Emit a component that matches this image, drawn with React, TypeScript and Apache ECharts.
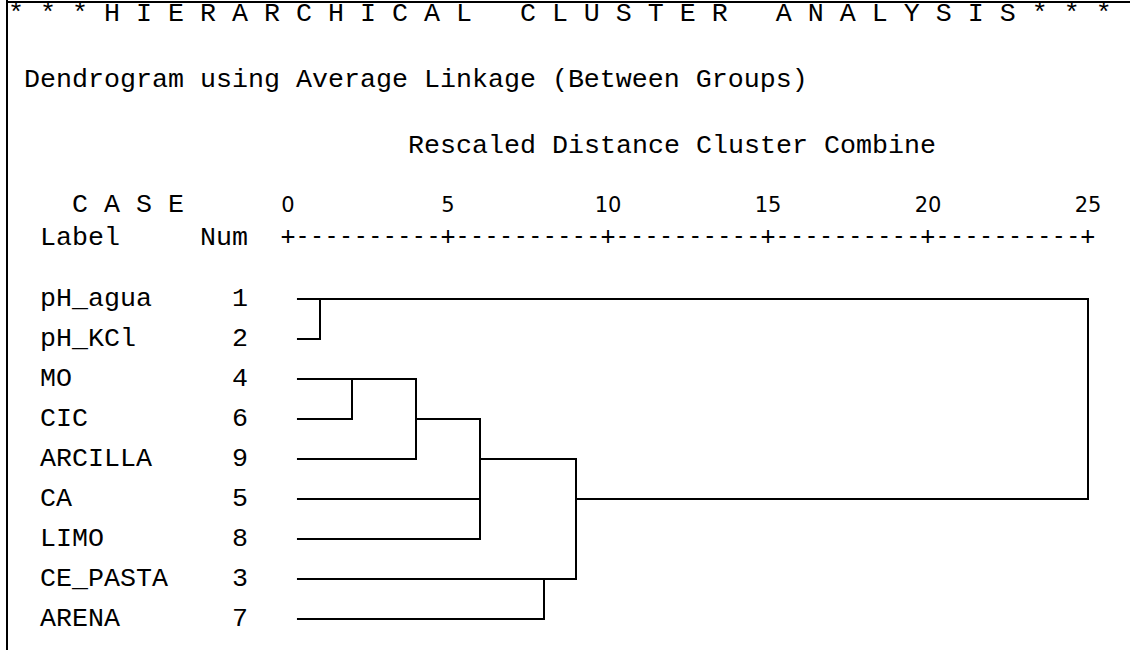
import React, { useEffect, useRef } from "react";
import * as echarts from "echarts";

// ---- Texts ----
const TITLE = "* * * H I E R A R C H I C A L   C L U S T E R   A N A L Y S I S * * *";
const SUBTITLE = "Dendrogram using Average Linkage (Between Groups)";
const AXIS_TITLE = "Rescaled Distance Cluster Combine";
const CASE_HEADER = "C A S E";
const LABEL_HEADER = "Label";
const NUM_HEADER = "Num";

// ---- Axis ----
const TICKS = [0, 5, 10, 15, 20, 25];

// ---- Leaves (top to bottom) ----
const LEAF_LABELS = ["pH_agua", "pH_KCl", "MO", "CIC", "ARCILLA", "CA", "LIMO", "CE_PASTA", "ARENA"];
const LEAF_NUMS = [1, 2, 4, 6, 9, 5, 8, 3, 7];

// ---- Merges (node ids: leaves 0..8, clusters 9..) ----
const MERGE_CHILDREN = [[0, 1], [2, 3], [10, 4], [11, 5, 6], [7, 8], [12, 13], [9, 14]];
const MERGE_HEIGHTS = [1.0, 2.0, 4.0, 6.0, 8.0, 9.0, 25.0];
const LEAF_START = 0.28;

const MONO = "'Liberation Mono', 'Courier New', monospace";
const CHAR_W = 16;
const X0 = 8;
const colX = (c: number) => X0 + c * CHAR_W;

function buildSegments() {
  const nodeRow: number[] = LEAF_LABELS.map((_, i) => i);
  const nodeX: number[] = LEAF_LABELS.map(() => LEAF_START);
  const segs: number[][][] = [];
  MERGE_CHILDREN.forEach((ch, k) => {
    const h = MERGE_HEIGHTS[k];
    const sorted = ch.slice().sort((a, b) => nodeRow[a] - nodeRow[b]);
    const first = sorted[0];
    const last = sorted[sorted.length - 1];
    segs.push([
      [nodeX[first], nodeRow[first]],
      [h, nodeRow[first]],
      [h, nodeRow[last]],
      [nodeX[last], nodeRow[last]],
    ]);
    sorted.slice(1, -1).forEach((c) => segs.push([[nodeX[c], nodeRow[c]], [h, nodeRow[c]]]));
    nodeRow.push(Math.floor((nodeRow[first] + nodeRow[last]) / 2));
    nodeX.push(h);
  });
  return segs;
}

export default function App() {
  const ref = useRef<HTMLDivElement>(null);
  useEffect(() => {
    document.body.style.margin = "0";
    if (!ref.current) return;
    const chart = echarts.init(ref.current, undefined, { renderer: "svg" });
    const segs = buildSegments();
    const textStyle = (extra: any) => ({
      fill: "#000",
      font: `26.67px ${MONO}`,
      lineHeight: 20,
      textVerticalAlign: "middle",
      ...extra,
    });
    const ROW_Y0 = 299;
    const ROW_H = 40;
    const plusLine = TICKS.map(() => "+").join("-".repeat(10));

    const graphics: any[] = [
      { type: "line", shape: { x1: 7, y1: 0, x2: 7, y2: 650 }, style: { stroke: "#000", lineWidth: 2 }, silent: true },
      { type: "line", shape: { x1: 6, y1: 2, x2: 1130, y2: 2 }, style: { stroke: "#000", lineWidth: 2 }, silent: true },
      { type: "text", x: colX(0), y: 14, style: textStyle({ text: TITLE }) },
      { type: "text", x: colX(1), y: 80, style: textStyle({ text: SUBTITLE }) },
      { type: "text", x: colX(25), y: 146, style: textStyle({ text: AXIS_TITLE }) },
      { type: "text", x: colX(4), y: 205, style: textStyle({ text: CASE_HEADER }) },
      { type: "text", x: colX(2), y: 238, style: textStyle({ text: LABEL_HEADER }) },
      { type: "text", x: colX(12), y: 238, style: textStyle({ text: NUM_HEADER }) },
      {
        type: "text",
        x: 280.7,
        y: 236,
        style: {
          text: plusLine,
          fill: "#000",
          font: "24.16px 'DejaVu Sans Mono', monospace",
          lineHeight: 20,
          textVerticalAlign: "middle",
        },
      },
    ];
    LEAF_LABELS.forEach((lab, i) => {
      const y = ROW_Y0 + i * ROW_H;
      graphics.push({ type: "text", x: colX(2), y, style: textStyle({ text: lab }) });
      graphics.push({ type: "text", x: colX(15), y, style: textStyle({ text: String(LEAF_NUMS[i]), textAlign: "right" }) });
    });

    chart.setOption({
      animation: false,
      backgroundColor: "#fff",
      grid: { left: 288, right: 42, top: ROW_Y0, bottom: 650 - (ROW_Y0 + ROW_H * (LEAF_LABELS.length - 1)) },
      xAxis: {
        type: "value",
        position: "top",
        min: TICKS[0],
        max: TICKS[TICKS.length - 1],
        interval: TICKS[1] - TICKS[0],
        axisLine: { show: false },
        axisTick: { show: false },
        splitLine: { show: false },
        axisLabel: { fontFamily: "'DejaVu Sans', sans-serif", fontSize: 21, color: "#000", margin: 84 },
      },
      yAxis: { type: "value", inverse: true, min: 0, max: LEAF_LABELS.length - 1, show: false },
      graphic: graphics,
      series: segs.map((seg) => ({
        type: "line",
        data: seg,
        symbol: "none",
        showSymbol: false,
        clip: false,
        silent: true,
        lineStyle: { color: "#000", width: 2, cap: "butt", join: "miter" },
      })),
    });
    return () => chart.dispose();
  }, []);
  return <div ref={ref} style={{ width: 1130, height: 650 }} />;
}
